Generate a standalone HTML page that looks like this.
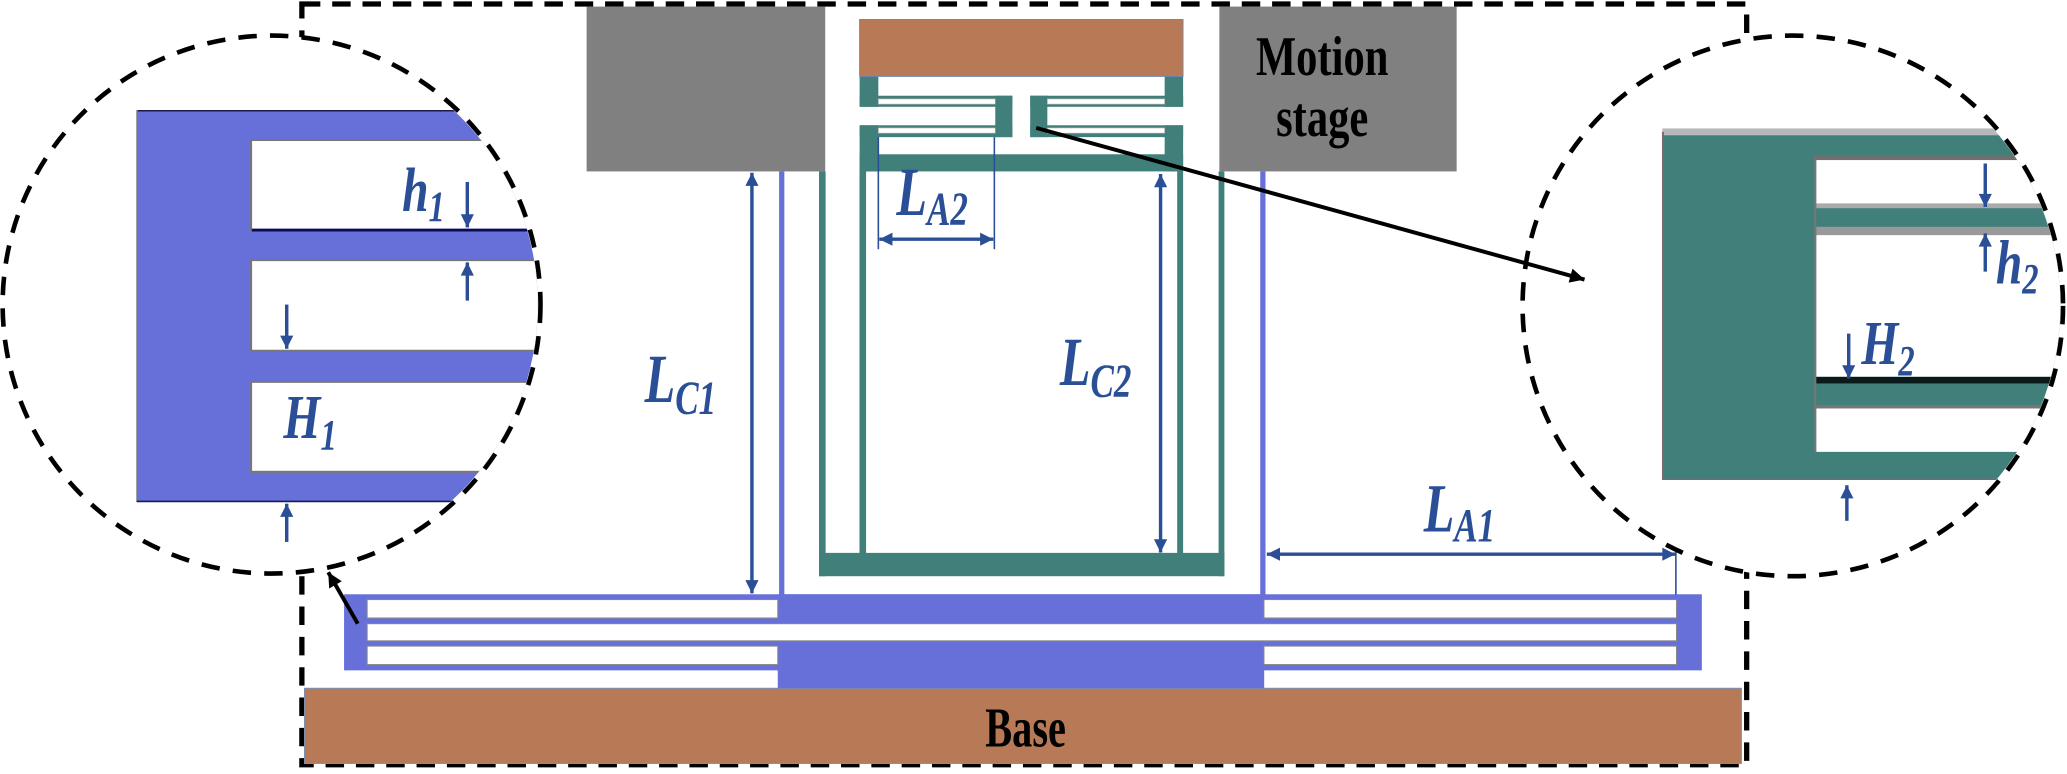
<!DOCTYPE html>
<html><head><meta charset="utf-8"><style>
html,body{margin:0;padding:0;background:#fff;}
svg{display:block;}
.lbl{font-family:"Liberation Serif",serif;font-weight:bold;font-style:italic;fill:#2a4f96;}
.blk{font-family:"Liberation Serif",serif;font-weight:bold;fill:#000;}
</style></head><body>
<svg width="2067" height="774" viewBox="0 0 1568 587" preserveAspectRatio="none" xmlns="http://www.w3.org/2000/svg">
<defs>
<marker id="ab" viewBox="0 0 10 10" refX="10" refY="5" markerWidth="12" markerHeight="10" markerUnits="userSpaceOnUse" orient="auto-start-reverse"><path d="M0,0 L10,5 L0,10 z" fill="#2a4f96"/></marker>
<marker id="ak" viewBox="0 0 10 10" refX="10" refY="5" markerWidth="14" markerHeight="11" markerUnits="userSpaceOnUse" orient="auto"><path d="M0,0 L10,5 L0,10 z" fill="#000"/></marker>
<clipPath id="cl"><circle cx="206" cy="231" r="202"/></clipPath>
<clipPath id="cr"><circle cx="1360" cy="232" r="203"/></clipPath>
</defs>

<!-- outer dashed box -->
<rect x="229" y="3" width="1096" height="577" fill="none" stroke="#000" stroke-width="4" stroke-dasharray="14 9"/>

<!-- base -->
<rect x="231" y="522" width="1090" height="57" fill="#b87a56" stroke="#7f8fb0" stroke-width="0.8"/>
<text transform="translate(778,566) scale(0.9,1.25)" class="blk" font-size="34" text-anchor="middle">Base</text>

<!-- blue comb -->
<rect x="261" y="450.7" width="1030" height="57.7" fill="#6770d8"/>
<rect x="590" y="450.7" width="369" height="71.3" fill="#6770d8"/>
<g fill="#fff" stroke="#888" stroke-width="0.8">
<rect x="278.5" y="454.7" width="311.5" height="14"/>
<rect x="958.8" y="454.7" width="313" height="14"/>
<rect x="278.5" y="473" width="993.3" height="13"/>
<rect x="278.5" y="490" width="311.5" height="14"/>
<rect x="958.8" y="490" width="313" height="14"/>
</g>

<!-- blue vertical beams -->
<rect x="591" y="130" width="4" height="321" fill="#6770d8"/>
<rect x="956" y="130" width="4" height="321" fill="#6770d8"/>

<!-- gray motion stage blocks -->
<rect x="445" y="5" width="181" height="125" fill="#808080"/>
<rect x="925" y="5" width="180" height="125" fill="#808080"/>
<text transform="translate(1003,57) scale(0.95,1.25)" class="blk" font-size="34" text-anchor="middle">Motion</text>
<text transform="translate(1003,103) scale(0.95,1.25)" class="blk" font-size="34" text-anchor="middle">stage</text>

<!-- teal structure -->
<g fill="#417f7b">
<rect x="621.3" y="130" width="5" height="307"/>
<rect x="924.4" y="130" width="4.4" height="307"/>
<rect x="621.3" y="419.3" width="307.5" height="17.7"/>
<rect x="652" y="130" width="5" height="290"/>
<rect x="893" y="130" width="4.5" height="290"/>
<rect x="652.1" y="58" width="14.2" height="23"/>
<rect x="883.5" y="58" width="14" height="23"/>
<rect x="652.1" y="72.6" width="115.8" height="8.4"/>
<rect x="781.5" y="72.6" width="116" height="8.4"/>
<rect x="652.1" y="95" width="115.8" height="9"/>
<rect x="781.5" y="95" width="116" height="9"/>
<rect x="652.1" y="95" width="14.2" height="35"/>
<rect x="883.5" y="95" width="14" height="35"/>
<rect x="652.1" y="117" width="245.4" height="13"/>
<rect x="755" y="72.6" width="13" height="31.4"/>
<rect x="781.5" y="72.6" width="13" height="31.4"/>
</g>
<g fill="#fff" stroke="#aaa" stroke-width="0.5">
<rect x="666.3" y="75" width="88.7" height="4"/>
<rect x="794.5" y="75" width="89" height="4"/>
<rect x="666.3" y="97" width="88.7" height="4"/>
<rect x="794.5" y="97" width="89" height="4"/>
</g>
<rect x="652" y="14.7" width="245.5" height="43.3" fill="#b87a56" stroke="#6a88b8" stroke-width="0.6"/>

<!-- dimensions -->
<g stroke="#2a4f96" fill="none">
<line x1="570.4" y1="131" x2="570.4" y2="450" stroke-width="2.6" marker-start="url(#ab)" marker-end="url(#ab)"/>
<line x1="880.4" y1="132" x2="880.4" y2="419" stroke-width="2.6" marker-start="url(#ab)" marker-end="url(#ab)"/>
<line x1="666.3" y1="104" x2="666.3" y2="189" stroke-width="1.2"/>
<line x1="754.3" y1="104" x2="754.3" y2="189" stroke-width="1.2"/>
<line x1="667" y1="181.4" x2="753.5" y2="181.4" stroke-width="2.6" marker-start="url(#ab)" marker-end="url(#ab)"/>
<line x1="1271.3" y1="413.5" x2="1271.3" y2="451" stroke-width="1.2"/>
<line x1="961" y1="420.3" x2="1271" y2="420.3" stroke-width="2.6" marker-start="url(#ab)" marker-end="url(#ab)"/>
</g>
<text transform="translate(680,163) scale(0.95,1.3)" class="lbl" font-size="40">L<tspan font-size="28" dy="6">A2</tspan></text>
<text transform="translate(489,305) scale(0.95,1.3)" class="lbl" font-size="40">L<tspan font-size="28" dy="7">C1</tspan></text>
<text transform="translate(804,292) scale(0.95,1.3)" class="lbl" font-size="40">L<tspan font-size="28" dy="7">C2</tspan></text>
<text transform="translate(1080,403) scale(0.95,1.3)" class="lbl" font-size="40">L<tspan font-size="28" dy="6">A1</tspan></text>

<!-- left circle -->
<circle cx="206" cy="231" r="204" fill="#fff"/>
<g clip-path="url(#cl)">
<rect x="103.7" y="83.5" width="320" height="297" fill="#6770d8"/>
<line x1="103.7" y1="84" x2="424" y2="84" stroke="#1a1a50" stroke-width="1.2"/>
<line x1="104" y1="83.5" x2="104" y2="380.6" stroke="#777" stroke-width="1.2"/>
<line x1="103.7" y1="380.3" x2="424" y2="380.3" stroke="#1a1a50" stroke-width="1.2"/>
<g fill="#fff" stroke="#777" stroke-width="1.5">
<rect x="190.5" y="106.2" width="240" height="68.3"/>
<rect x="190.5" y="197.3" width="240" height="68.7"/>
<rect x="190.5" y="289.6" width="240" height="68.2"/>
</g>
<line x1="191" y1="174.5" x2="424" y2="174.5" stroke="#0a0a55" stroke-width="2.2"/>
</g>
<circle cx="206" cy="231" r="204" fill="none" stroke="#000" stroke-width="3.5" stroke-dasharray="14 10"/>
<g stroke="#2a4f96" stroke-width="2.6" fill="none">
<line x1="354.5" y1="138" x2="354.5" y2="172.5" marker-end="url(#ab)"/>
<line x1="354.5" y1="228" x2="354.5" y2="199" marker-end="url(#ab)"/>
<line x1="217.5" y1="231" x2="217.5" y2="264.5" marker-end="url(#ab)"/>
<line x1="217.5" y1="411" x2="217.5" y2="382" marker-end="url(#ab)"/>
</g>
<text transform="translate(305,160) scale(0.95,1.25)" class="lbl" font-size="38">h<tspan font-size="26" dy="6">1</tspan></text>
<text transform="translate(215,332) scale(0.95,1.25)" class="lbl" font-size="38">H<tspan font-size="26" dy="7">1</tspan></text>

<!-- right circle -->
<circle cx="1360" cy="232" r="205" fill="#fff"/>
<g clip-path="url(#cr)">
<rect x="1261" y="97.4" width="320" height="5" fill="#b8b8b8"/>
<rect x="1261" y="102.5" width="320" height="261.5" fill="#417f7b"/>
<line x1="1261.5" y1="100" x2="1261.5" y2="364" stroke="#7a6a70" stroke-width="1.5"/>
<line x1="1261" y1="363.5" x2="1581" y2="363.5" stroke="#7a6a70" stroke-width="1"/>
<rect x="1376" y="118" width="210" height="3.4" fill="#6f6f6f"/>
<rect x="1377.8" y="121.4" width="210" height="32.9" fill="#fff"/>
<rect x="1377.8" y="154.3" width="210" height="3.6" fill="#aaa"/>
<rect x="1377.8" y="172" width="210" height="6.3" fill="#999"/>
<rect x="1377.8" y="178.3" width="210" height="107.5" fill="#fff"/>
<rect x="1377.8" y="285.8" width="210" height="5" fill="#0a1a1a"/>
<rect x="1377.8" y="307.3" width="210" height="2.5" fill="#777"/>
<rect x="1377.8" y="309.8" width="210" height="32.9" fill="#fff"/>
<line x1="1377" y1="121" x2="1377" y2="343" stroke="#777" stroke-width="1.5"/>
</g>
<circle cx="1360" cy="232" r="205" fill="none" stroke="#000" stroke-width="3.5" stroke-dasharray="14 10"/>
<g stroke="#2a4f96" stroke-width="2.6" fill="none">
<line x1="1506" y1="124" x2="1506" y2="157" marker-end="url(#ab)"/>
<line x1="1506" y1="206" x2="1506" y2="177" marker-end="url(#ab)"/>
<line x1="1402.4" y1="253" x2="1402.4" y2="287" marker-end="url(#ab)"/>
<line x1="1401" y1="395" x2="1401" y2="368" marker-end="url(#ab)"/>
</g>
<text transform="translate(1514,215) scale(0.95,1.25)" class="lbl" font-size="38">h<tspan font-size="26" dy="6">2</tspan></text>
<text transform="translate(1412,276) scale(0.95,1.25)" class="lbl" font-size="38">H<tspan font-size="26" dy="7">2</tspan></text>

<!-- black pointer arrows -->
<line x1="786" y1="97" x2="1202" y2="212" stroke="#000" stroke-width="3" marker-end="url(#ak)"/>
<line x1="271.4" y1="473" x2="249" y2="434" stroke="#000" stroke-width="3" marker-end="url(#ak)"/>
</svg>
</body></html>
